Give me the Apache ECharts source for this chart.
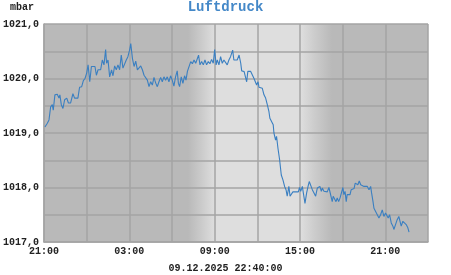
<!DOCTYPE html>
<html>
<head>
<meta charset="utf-8">
<script src="https://cdn.jsdelivr.net/npm/echarts@6/dist/echarts.min.js"></script>
<style>
html,body{margin:0;padding:0;background:#fff;}
#c{width:451px;height:275px;}
</style>
</head>
<body>
<div id="c"></div>
<script>
// minutes since 08.12.2025 21:00
var minutes = [4,14,21,28,35,39,46,56,63,67,73,80,87,96,103,112,122,129,143,150,159,166,173,180,186,193,200,208,215,221,228,239,246,253,260,264,270,277,285,291,298,305,312,319,326,333,340,347,354,361,366,373,380,387,394,401,408,415,422,429,436,443,450,457,464,471,478,485,492,499,506,513,520,527,534,541,548,555,562,567,572,579,586,593,599,605,612,619,626,633,640,647,652,658,665,672,679,686,693,700,707,714,720,726,731,738,745,752,759,766,773,780,787,796,801,808,815,823,830,834,844,851,855,860,872,879,886,893,897,903,907,914,921,928,935,942,949,953,960,967,970,977,981,987,994,1001,1008,1015,1021,1026,1033,1038,1043,1050,1057,1064,1073,1078,1083,1090,1094,1101,1108,1114,1119,1125,1132,1139,1146,1153,1160,1164,1170,1174,1181,1188,1195,1202,1209,1216,1220,1226,1232,1237,1243,1249,1254,1261,1265,1270,1275,1279,1286,1291,1296,1302,1308,1313,1319,1324,1330,1336,1343,1350,1357,1364,1371,1378,1382,1388,1392,1399,1406,1413,1420,1427,1434,1441,1448,1452,1458,1465,1472,1476,1483,1490,1497,1502,1507,1514,1521,1528,1535,1540];
var pressure = [1019.11,1019.18,1019.24,1019.48,1019.52,1019.42,1019.70,1019.71,1019.64,1019.70,1019.52,1019.45,1019.61,1019.64,1019.55,1019.55,1019.72,1019.64,1019.64,1019.84,1019.85,1019.96,1020.00,1020.10,1020.25,1019.94,1020.22,1020.19,1020.22,1020.06,1020.16,1020.16,1020.34,1020.25,1020.53,1020.28,1020.34,1020.03,1020.16,1020.05,1020.23,1020.16,1020.25,1020.16,1020.43,1020.19,1020.16,1020.34,1020.40,1020.52,1020.64,1020.37,1020.22,1020.32,1020.16,1020.16,1020.23,1020.16,1020.06,1020.03,1019.97,1019.85,1019.94,1019.88,1020.02,1019.92,1019.85,1019.94,1020.02,1019.94,1020.03,1019.97,1020.03,1019.94,1020.05,1019.97,1019.86,1020.03,1020.14,1019.91,1019.85,1020.03,1019.91,1020.05,1019.97,1020.13,1020.16,1020.31,1020.27,1020.34,1020.28,1020.31,1020.43,1020.25,1020.31,1020.25,1020.34,1020.25,1020.31,1020.27,1020.35,1020.28,1020.53,1020.25,1020.34,1020.25,1020.40,1020.28,1020.34,1020.31,1020.25,1020.34,1020.40,1020.52,1020.34,1020.33,1020.34,1020.43,1020.28,1020.14,1020.13,1020.13,1019.94,1020.13,1020.13,1020.13,1020.00,1019.97,1019.88,1019.94,1019.84,1019.84,1019.82,1019.70,1019.64,1019.52,1019.39,1019.27,1019.24,1019.15,1019.00,1018.87,1018.94,1018.72,1018.51,1018.23,1018.14,1018.02,1017.96,1017.84,1018.02,1017.84,1017.84,1017.92,1017.92,1017.92,1017.92,1018.00,1017.93,1018.02,1017.90,1017.71,1017.90,1018.02,1018.11,1018.11,1017.96,1017.93,1017.84,1017.99,1017.96,1018.02,1017.93,1017.99,1017.93,1017.92,1017.92,1018.00,1017.99,1017.74,1017.84,1017.81,1017.74,1017.81,1017.74,1017.81,1017.78,1018.00,1017.87,1017.93,1017.74,1017.87,1017.90,1017.87,1017.96,1017.99,1017.98,1018.08,1018.11,1018.05,1018.12,1018.05,1018.02,1018.02,1018.02,1018.02,1017.96,1018.02,1017.90,1017.74,1017.62,1017.56,1017.53,1017.44,1017.50,1017.59,1017.47,1017.53,1017.50,1017.44,1017.50,1017.35,1017.29,1017.23,1017.32,1017.41,1017.47,1017.38,1017.29,1017.38,1017.37,1017.32,1017.26,1017.18];
var startHour = 21;
var titleText = 'Luftdruck';
var unitText = 'mbar';
var stampText = '09.12.2025 22:40:00';

var seriesData = minutes.map(function (m, i) { return [m, pressure[i]]; });
var font = '"Liberation Mono", "DejaVu Sans Mono", monospace';
var gridColor = '#a4a4a4';

var chart = echarts.init(document.getElementById('c'), null, {renderer: 'canvas'});
chart.setOption({
  animation: false,
  backgroundColor: '#ffffff',
  title: {
    text: titleText,
    left: 'center',
    top: 0,
    padding: [0, 0, 0, 0],
    textStyle: {fontFamily: font, fontWeight: 'bold', fontSize: 14, color: '#4488c8'}
  },
  graphic: [
    {type: 'text', left: 10, top: 2, style: {text: unitText, font: 'bold 10px ' + font, fill: '#222'}},
    {type: 'text', left: 'center', top: 263, style: {text: stampText, font: 'bold 10px ' + font, fill: '#222'}}
  ],
  grid: {
    left: 43, right: 23, top: 24, bottom: 33,
    show: true, borderWidth: 0,
    backgroundColor: {
      type: 'linear', x: 0, y: 0, x2: 1, y2: 0,
      colorStops: [
        {offset: 0, color: '#b9b9b9'},
        {offset: 0.375, color: '#b9b9b9'},
        {offset: 0.41, color: '#cbcbcb'},
        {offset: 0.445, color: '#dedede'},
        {offset: 0.668, color: '#dedede'},
        {offset: 0.705, color: '#cccccc'},
        {offset: 0.75, color: '#b9b9b9'},
        {offset: 1, color: '#b9b9b9'}
      ]
    }
  },
  xAxis: {
    type: 'value',
    min: 0, max: 1620, interval: 180,
    axisLine: {show: true, lineStyle: {color: gridColor, width: 1.5}},
    axisTick: {show: false},
    splitLine: {show: true, lineStyle: {color: gridColor, width: 1.5}},
    axisLabel: {
      margin: 4,
      fontFamily: font, fontWeight: 'bold', fontSize: 10, color: '#222',
      showMinLabel: true, showMaxLabel: false,
      formatter: function (v) {
        if (v % 360 !== 0) return '';
        var h = (startHour + v / 60) % 24;
        return (h < 10 ? '0' : '') + h + ':00';
      }
    }
  },
  yAxis: {
    type: 'value',
    min: 1017, max: 1021, interval: 0.5,
    axisLine: {show: true, lineStyle: {color: gridColor, width: 1.5}},
    axisTick: {show: false},
    splitLine: {show: true, lineStyle: {color: gridColor, width: 1.5}},
    axisLabel: {
      margin: 5,
      fontFamily: font, fontWeight: 'bold', fontSize: 10, color: '#222',
      formatter: function (v) {
        if (Math.abs(v - Math.round(v)) > 1e-6) return '';
        return v.toFixed(1).replace('.', ',');
      }
    }
  },
  series: [{
    type: 'line',
    data: seriesData,
    showSymbol: false,
    symbol: 'none',
    lineStyle: {color: '#3a7fc1', width: 1.1},
    z: 5
  }]
});
</script>
</body>
</html>
